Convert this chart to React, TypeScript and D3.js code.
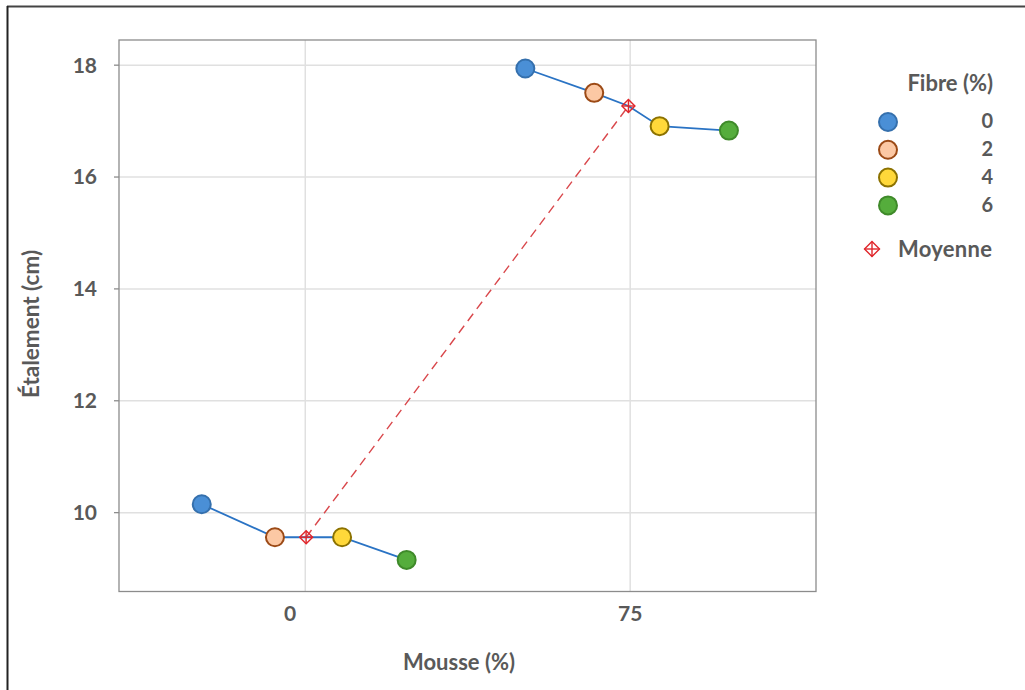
import React from "react";
import * as d3 from "d3";

const mousseTicks = [0, 75];
const tickLabelPos = [-3.5, 75];
const yTicks = [10, 12, 14, 16, 18];
const fibreLevels = ["0", "2", "4", "6"];
// dodged x positions (axis units) of each fibre level within each mousse group
const xPosMousse0 = [-23.9, -7.0, 8.5, 23.4];
const xPosMousse75 = [50.8, 66.7, 81.8, 97.8];
// spread values (cm)
const spreadMousse0 = [10.15, 9.56, 9.56, 9.155];
const spreadMousse75 = [17.94, 17.505, 16.91, 16.83];
// means
const meanX = [0.2, 74.6];
const meanY = [9.56, 17.27];

const fills = ["#4a8fd6", "#fcc8a4", "#ffd83a", "#55ad3c"];
const strokes = ["#3570ad", "#9c4a16", "#8c7200", "#3f8a2a"];

const W = 1025;
const H = 690;
const plot = { left: 119, right: 816, top: 40, bottom: 591.5 };
const FONT = "Lato, 'Open Sans', sans-serif";
const TXT = "#595959";

function Diamond({ cx, cy, r }: { cx: number; cy: number; r: number }) {
  return (
    <g stroke="#e0262b" strokeWidth={1.4} fill="none">
      <path d={`M${cx},${cy - r}L${cx + r},${cy}L${cx},${cy + r}L${cx - r},${cy}Z`} />
      <line x1={cx - r} x2={cx + r} y1={cy} y2={cy} />
      <line x1={cx} x2={cx} y1={cy - r} y2={cy + r} />
    </g>
  );
}

export default function App() {
  const x = d3.scaleLinear().domain([-43, 117.9]).range([plot.left, plot.right]);
  const y = d3.scaleLinear().domain([8.59, 18.45]).range([plot.bottom, plot.top]);

  const groups = [
    { xs: xPosMousse0, ys: spreadMousse0, mx: meanX[0], my: meanY[0] },
    { xs: xPosMousse75, ys: spreadMousse75, mx: meanX[1], my: meanY[1] },
  ];

  const line = d3
    .line<[number, number]>()
    .x((d) => x(d[0]))
    .y((d) => y(d[1]));

  return (
    <svg
      width={W}
      height={H}
      style={{ position: "absolute", left: 0, top: 0, background: "#fff" }}
      fontFamily={FONT}
    >
      <rect x={0} y={0} width={W} height={H} fill="#fff" />
      {/* outer frame */}
      <line x1={7} x2={W} y1={6.5} y2={6.5} stroke="#444" strokeWidth={2} />
      <line x1={7.5} x2={7.5} y1={6} y2={H} stroke="#222" strokeWidth={2} />

      {/* gridlines */}
      {yTicks.map((t) => (
        <line key={"gy" + t} x1={plot.left} x2={plot.right} y1={y(t)} y2={y(t)} stroke="#e0e0e0" strokeWidth={1.5} />
      ))}
      {mousseTicks.map((t) => (
        <line key={"gx" + t} x1={x(t)} x2={x(t)} y1={plot.top} y2={plot.bottom} stroke="#e0e0e0" strokeWidth={1.5} />
      ))}
      {/* plot border */}
      <rect
        x={plot.left}
        y={plot.top}
        width={plot.right - plot.left}
        height={plot.bottom - plot.top}
        fill="none"
        stroke="#8c8c8c"
        strokeWidth={1.3}
      />
      {/* y ticks */}
      {yTicks.map((t) => (
        <g key={"yt" + t}>
          <line x1={plot.left - 5} x2={plot.left} y1={y(t)} y2={y(t)} stroke="#8c8c8c" strokeWidth={1.3} />
          <text x={97} y={y(t) + 2} textAnchor="end" dominantBaseline="middle" fontSize={21} fontWeight="bold" fill={TXT}>
            {t}
          </text>
        </g>
      ))}
      {/* x tick labels */}
      {mousseTicks.map((t, i) => (
        <text key={"xt" + t} x={x(tickLabelPos[i])} y={616} textAnchor="middle" dominantBaseline="middle" fontSize={21} fontWeight="bold" fill={TXT}>
          {t}
        </text>
      ))}
      {/* axis titles */}
      <text x={459} y={664} textAnchor="middle" dominantBaseline="middle" fontSize={22} fontWeight="bold" fill={TXT}>
        Mousse (%)
      </text>
      <text
        transform={`translate(33,324) rotate(-90)`}
        textAnchor="middle"
        dominantBaseline="middle"
        fontSize={22.5}
        fontWeight="bold"
        fill={TXT}
      >
        Étalement (cm)
      </text>

      {/* mean dashed line */}
      <path
        d={line(meanX.map((mx, i) => [mx, meanY[i]]) as [number, number][]) || ""}
        fill="none"
        stroke="#d9474b"
        strokeWidth={1.4}
        strokeDasharray="9,6"
      />

      {/* group lines */}
      {groups.map((g, gi) => {
        const pts: [number, number][] = g.xs.map((xv, i) => [xv, g.ys[i]] as [number, number]);
        pts.push([g.mx, g.my]);
        pts.sort((a, b) => a[0] - b[0]);
        return <path key={"l" + gi} d={line(pts) || ""} fill="none" stroke="#2a73c4" strokeWidth={1.8} />;
      })}

      {/* mean markers */}
      {groups.map((g, gi) => (
        <Diamond key={"m" + gi} cx={x(g.mx)} cy={y(g.my)} r={6.5} />
      ))}

      {/* points */}
      {groups.map((g, gi) =>
        g.xs.map((xv, i) => (
          <circle
            key={"p" + gi + "-" + i}
            cx={x(xv)}
            cy={y(g.ys[i])}
            r={9}
            fill={fills[i]}
            stroke={strokes[i]}
            strokeWidth={2}
          />
        ))
      )}

      {/* legend */}
      <text x={993} y={85} textAnchor="end" dominantBaseline="middle" fontSize={22} fontWeight="bold" fill={TXT}>
        Fibre (%)
      </text>
      {fibreLevels.map((f, i) => {
        const cy = 122 + i * 27.8;
        return (
          <g key={"lg" + f}>
            <circle cx={888} cy={cy} r={9} fill={fills[i]} stroke={strokes[i]} strokeWidth={2} />
            <text x={993} y={cy + 1} textAnchor="end" dominantBaseline="middle" fontSize={20} fontWeight="bold" fill={TXT}>
              {f}
            </text>
          </g>
        );
      })}
      <Diamond cx={872} cy={249} r={7.5} />
      <text x={898} y={251} textAnchor="start" dominantBaseline="middle" fontSize={22} fontWeight="bold" fill={TXT} textLength={94}>
        Moyenne
      </text>
    </svg>
  );
}
